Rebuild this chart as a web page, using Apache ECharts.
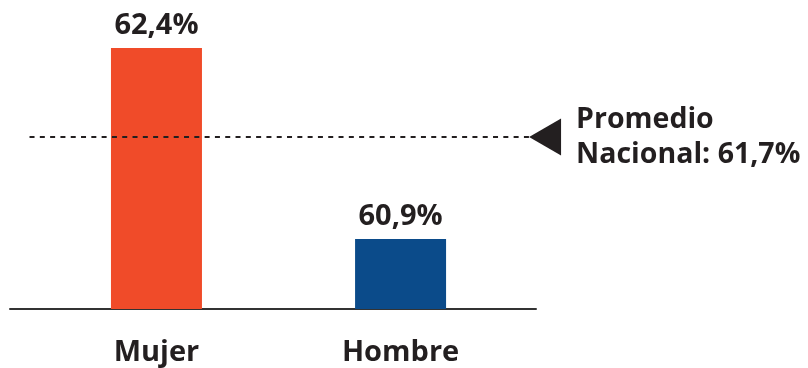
<!DOCTYPE html>
<html>
<head>
<meta charset="utf-8">
<script src="https://cdn.jsdelivr.net/npm/echarts@6/dist/echarts.min.js"></script>
<style>
  html, body { margin: 0; padding: 0; background: #ffffff; }
  #chart { width: 808px; height: 368px; }
</style>
</head>
<body>
<div id="chart"></div>
<script>
// Participation by sex, with the national average as a reference line
const categories = ['Mujer', 'Hombre'];
const values = [62.4, 60.9];
const nationalAverage = 61.7;
const averageTitle = ['Promedio', 'Nacional'];

const barColors = ['#f04b29', '#0b4b8a'];
const textColor = '#231f20';
const fontFamily = '"Open Sans", "Noto Sans", sans-serif';

const yMin = 60.35;
const yMax = 62.4;

const pct = v => v.toFixed(1).replace('.', ',') + '%';

const chart = echarts.init(document.getElementById('chart'), null, { renderer: 'canvas' });

chart.setOption({
  animation: false,
  backgroundColor: '#ffffff',
  grid: [
    // plotting area for bars, average line and its label
    { left: 10, right: 208, top: 48, bottom: 59 },
    // same area, narrower: carries only the baseline
    { left: 10, right: 272, top: 48, bottom: 59 }
  ],
  xAxis: [{
    type: 'value',
    gridIndex: 0,
    min: -0.6,
    max: 1.817,
    splitLine: { show: false },
    axisTick: { show: false },
    axisLine: { show: false },
    axisLabel: {
      customValues: categories.map((c, i) => i),
      formatter: v => categories[Math.round(v)],
      margin: 29,
      color: textColor,
      fontFamily: fontFamily,
      fontWeight: 700,
      fontSize: 29,
      lineHeight: 29
    }
  }, {
    type: 'value',
    gridIndex: 1,
    min: 0,
    max: 1,
    splitLine: { show: false },
    axisTick: { show: false },
    axisLabel: { show: false },
    axisLine: { show: true, onZero: false, lineStyle: { color: '#333333', width: 2 } }
  }],
  yAxis: [
    { type: 'value', gridIndex: 0, min: yMin, max: yMax, show: false },
    { type: 'value', gridIndex: 1, min: 0, max: 1, show: false }
  ],
  series: [{
    type: 'bar',
    xAxisIndex: 0,
    yAxisIndex: 0,
    barWidth: 91,
    z: 2,
    data: values.map((v, i) => ({ value: [i, v], itemStyle: { color: barColors[i] } })),
    label: {
      show: true,
      position: 'top',
      distance: 8,
      formatter: p => pct(p.value[1]),
      color: textColor,
      fontFamily: fontFamily,
      fontWeight: 700,
      fontSize: 29,
      lineHeight: 29
    },
    markLine: {
      silent: true,
      z: 5,
      symbol: ['none', 'path://M0,0L37,0L18.5,32Z'],
      symbolSize: [37, 32],
      lineStyle: { type: [5, 5.3], color: textColor, width: 2 },
      label: {
        show: true,
        position: 'end',
        distance: 31,
        formatter: () => averageTitle[0] + '\n' + averageTitle[1] + ': ' + pct(nationalAverage),
        color: textColor,
        fontFamily: fontFamily,
        fontWeight: 700,
        fontSize: 28.5,
        lineHeight: 35,
        align: 'left'
      },
      data: [[
        { coord: [-0.52, nationalAverage] },
        { coord: [1.592, nationalAverage] }
      ]]
    }
  }]
});
</script>
</body>
</html>
